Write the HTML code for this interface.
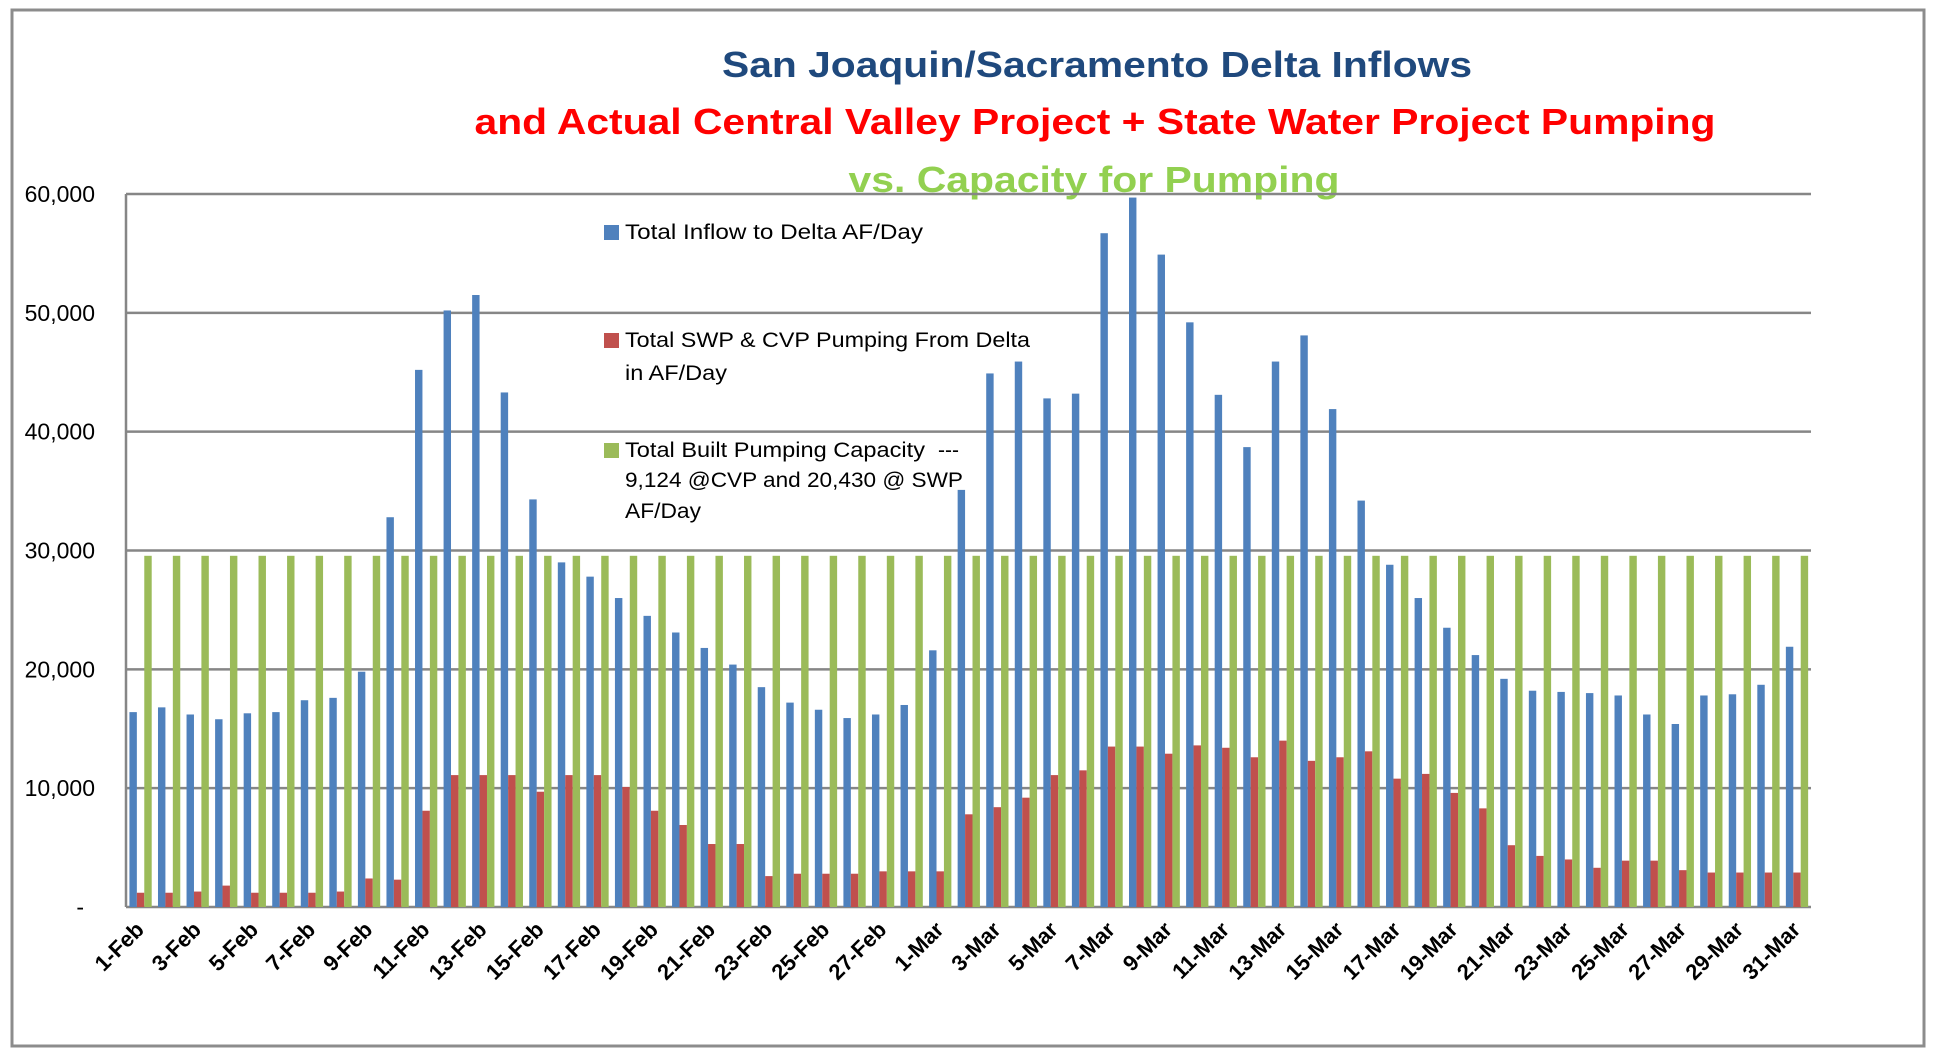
<!DOCTYPE html>
<html><head><meta charset="utf-8"><style>
html,body{margin:0;padding:0;background:#fff;}
svg{display:block;font-family:"Liberation Sans",sans-serif;}
</style></head><body>
<svg id="chart" width="1936" height="1062" viewBox="0 0 1936 1062">
<rect x="12" y="10" width="1912" height="1036" fill="#fff" stroke="#8c8c8c" stroke-width="3"/>
<g>
<text x="1097" y="77" text-anchor="middle" font-weight="bold" font-size="36" fill="#1F497D" textLength="750" lengthAdjust="spacingAndGlyphs">San Joaquin/Sacramento Delta Inflows</text>
<text x="1095" y="134" text-anchor="middle" font-weight="bold" font-size="36" fill="#FF0000" textLength="1241" lengthAdjust="spacingAndGlyphs">and Actual Central Valley Project + State Water Project Pumping</text>
<text x="1094" y="192" text-anchor="middle" font-weight="bold" font-size="36" fill="#92D050" textLength="491" lengthAdjust="spacingAndGlyphs">vs.  Capacity for Pumping</text>
</g>
<g id="grid"></g>
<g id="bars"></g>
<g id="ylabels"></g>
<g id="xlabels"></g>
<g>
<g>
<rect x="604" y="225" width="15" height="15" fill="#4F81BD"/>
<text x="625" y="239" font-size="21" fill="#000" textLength="298" lengthAdjust="spacingAndGlyphs">Total Inflow to Delta AF/Day</text>
</g>
<g>
<rect x="604" y="333" width="15" height="15" fill="#C0504D"/>
<text x="625" y="347" font-size="21" fill="#000" textLength="405" lengthAdjust="spacingAndGlyphs">Total SWP &amp; CVP Pumping From Delta</text>
<text x="625" y="380" font-size="21" fill="#000" textLength="102" lengthAdjust="spacingAndGlyphs">in AF/Day</text>
</g>
<g>
<rect x="604" y="443" width="15" height="15" fill="#9BBB59"/>
<text x="625" y="457" font-size="21" fill="#000" textLength="300" lengthAdjust="spacingAndGlyphs">Total Built Pumping Capacity</text>
<text x="938" y="457" font-size="21" fill="#000">---</text>
<text x="625" y="487" font-size="21" fill="#000" textLength="338" lengthAdjust="spacingAndGlyphs">9,124 @CVP and 20,430 @ SWP</text>
<text x="625" y="518" font-size="21" fill="#000" textLength="76" lengthAdjust="spacingAndGlyphs">AF/Day</text>
</g>
</g>
</svg>
<script>
const categories = [];
const febDays = 28, marDays = 31;
for (let d = 1; d <= febDays; d++) categories.push(d + '-Feb');
for (let d = 1; d <= marDays; d++) categories.push(d + '-Mar');
const inflow = [16.4,16.8,16.2,15.8,16.3,16.4,17.4,17.6,19.8,32.8,45.2,50.2,51.5,43.3,34.3,29.0,27.8,26.0,24.5,23.1,21.8,20.4,18.5,17.2,16.6,15.9,16.2,17.0,
21.6,35.1,44.9,45.9,42.8,43.2,56.7,59.7,54.9,49.2,43.1,38.7,45.9,48.1,41.9,34.2,28.8,26.0,23.5,21.2,19.2,18.2,18.1,18.0,17.8,16.2,15.4,17.8,17.9,18.7,21.9].map(v=>v*1000);
const pumping = [1.2,1.2,1.3,1.8,1.2,1.2,1.2,1.3,2.4,2.3,8.1,11.1,11.1,11.1,9.7,11.1,11.1,10.1,8.1,6.9,5.3,5.3,2.6,2.8,2.8,2.8,3.0,3.0,
3.0,7.8,8.4,9.2,11.1,11.5,13.5,13.5,12.9,13.6,13.4,12.6,14.0,12.3,12.6,13.1,10.8,11.2,9.6,8.3,5.2,4.3,4.0,3.3,3.9,3.9,3.1,2.9,2.9,2.9,2.9].map(v=>v*1000);
const capacity = categories.map(()=>29554);
const yTicks = [0,10000,20000,30000,40000,50000,60000];
const yTickLabels = ['-','10,000','20,000','30,000','40,000','50,000','60,000'];

const NS='http://www.w3.org/2000/svg';
const L=126, R=1811, T=194, B=907, YMAX=60000;
const cw=(R-L)/categories.length;
const y=v=>B-(v/YMAX)*(B-T);
const x=i=>L+i*cw;
function mk(tag,attrs,parent){const e=document.createElementNS(NS,tag);for(const k in attrs)e.setAttribute(k,attrs[k]);parent.appendChild(e);return e;}
const grid=document.getElementById('grid'), bars=document.getElementById('bars'), yl=document.getElementById('ylabels'), xl=document.getElementById('xlabels');
yTicks.forEach((t,i)=>{
  const ln=mk('line',{x1:L,x2:R,y1:y(t),y2:y(t),stroke:'#868686','stroke-width':2.5},grid);
  
  
  const tx=mk('text',{x: t===0?84:95, y:y(t)+8,'text-anchor':'end','font-size':23,fill:'#000'},yl);
  tx.textContent=yTickLabels[i];
  
  
});
const axisY=mk('line',{x1:L,x2:L,y1:T,y2:B,stroke:'#868686','stroke-width':2.5},grid);


const bw=cw*0.26, off=cw*0.12;
const series=[[inflow,'#4F81BD','bar-inflow'],[pumping,'#C0504D','bar-pumping'],[capacity,'#9BBB59','bar-capacity']];
categories.forEach((c,i)=>{
  series.forEach((s,j)=>{
    const v=s[0][i];
    const r=mk('rect',{x:x(i)+off+j*bw,y:y(v),width:bw,height:B-y(v),fill:s[1]},bars);
    
    
  });
  if(i%2===0){
    const cx=x(i)+cw/2+5, cy=931;
    const t=mk('text',{x:cx,y:cy,'text-anchor':'end','font-size':22,'font-weight':'bold',fill:'#000',transform:`rotate(-45 ${cx} ${cy})`},xl);
    t.textContent=c;
    
    
  }
});
</script>
</body></html>
